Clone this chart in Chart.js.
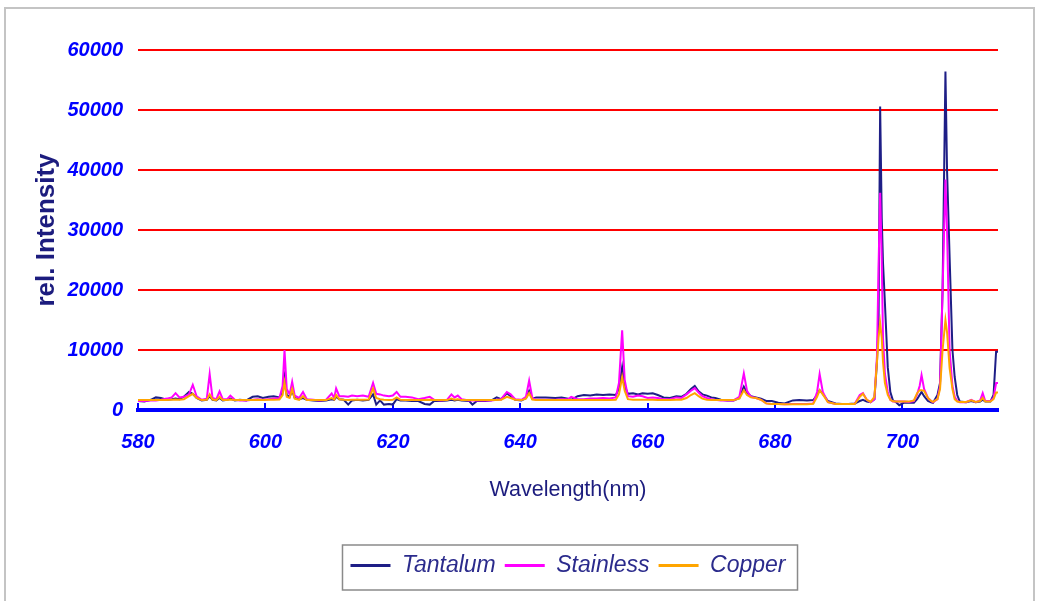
<!DOCTYPE html>
<html><head><meta charset="utf-8">
<script src="https://cdn.jsdelivr.net/npm/chart.js@4.4.1/dist/chart.umd.min.js"></script>
<style>html,body{margin:0;padding:0;background:#fff;}canvas{display:block;}</style>
</head><body>
<canvas id="c" width="1039" height="601"></canvas>
<script>
// ---------------- DATA ----------------
const seriesNames = ['Tantalum', 'Stainless', 'Copper'];
const xTitle = 'Wavelength(nm)';
const yTitle = 'rel. Intensity';
const xTicks = [580, 600, 620, 640, 660, 680, 700];
const xTickLabels = ['580', '600', '620', '640', '660', '680', '700'];
const yTicks = [0, 10000, 20000, 30000, 40000, 50000, 60000];
const yTickLabels = ['0', '10000', '20000', '30000', '40000', '50000', '60000'];

const wavelength = [
  580.0,581.0,582.0,582.8,583.6,584.5,585.3,585.9,586.5,587.2,
  588.0,588.6,589.2,590.0,590.8,591.25,591.7,592.3,592.8,593.3,
  594.0,594.5,595.2,596.0,597.0,598.0,598.8,599.6,600.5,601.3,
  602.2,602.7,603.0,603.35,603.8,604.2,604.6,605.3,605.9,606.5,
  607.5,608.5,609.5,610.4,610.8,611.1,611.6,612.3,613.0,613.6,
  614.4,615.3,616.2,616.9,617.4,618.0,618.6,619.4,620.0,620.6,
  621.2,622.0,623.0,624.0,625.0,625.8,626.5,627.5,628.5,629.2,
  629.7,630.2,630.8,632.0,632.5,633.2,634.5,635.5,636.3,637.0,
  637.9,638.5,639.2,640.2,640.9,641.4,641.9,642.5,644.0,645.5,
  646.5,647.5,648.0,649.0,650.0,651.0,652.0,653.0,654.0,655.0,
  655.5,656.0,656.4,656.9,657.7,658.5,659.2,660.0,660.8,661.6,
  662.5,663.5,664.5,665.3,666.1,666.8,667.4,668.0,668.6,669.3,
  670.0,670.6,671.5,672.5,673.5,674.4,675.1,675.6,676.2,677.0,
  677.8,678.6,679.5,680.5,681.5,682.8,683.8,685.0,686.0,686.6,
  687.0,687.5,688.3,689.5,690.5,691.5,692.5,693.3,693.8,694.4,
  695.0,695.6,696.0,696.25,696.5,696.75,696.95,697.25,697.7,698.1,
  698.5,699.0,699.5,700.2,701.0,701.8,702.3,702.7,703.0,703.4,
  704.0,704.5,704.8,705.5,705.9,706.3,706.75,707.0,707.4,707.85,
  708.2,708.6,709.0,710.0,710.8,711.5,712.2,712.6,713.0,713.8,
  714.3,714.7,715.0
];
const tantalum = [
  1500,1400,1700,2100,2000,1700,1800,1900,1800,2200,
  3000,2700,2000,1600,1700,2300,1700,1600,2000,1600,
  1700,1900,1600,1700,1600,2200,2300,2000,2200,2300,
  2100,3000,5500,2500,2200,3200,2000,1800,2000,1700,
  1600,1500,1600,1800,1700,2200,1800,1700,900,1600,
  1700,1600,1700,2600,900,1600,900,1000,900,1800,
  1600,1600,1500,1500,1000,900,1500,1500,1600,1700,
  1600,1700,1600,1500,900,1500,1500,1600,2100,1800,
  2800,2300,1700,1600,2000,3200,1900,2100,2100,2000,
  2100,1900,1700,2300,2500,2400,2600,2500,2600,2500,
  3500,7100,4000,2700,2800,2600,2800,2700,2800,2500,
  2100,2000,2300,2200,2700,3500,4000,3100,2600,2400,
  2100,2000,1700,1600,1600,2000,3900,2900,2300,2100,
  1900,1500,1500,1200,1100,1600,1650,1600,1650,2500,
  3300,2700,1500,1100,1000,1000,1100,1500,1700,1400,
  1300,1800,8000,15000,50600,32000,24500,17800,7100,3000,
  1600,1300,800,1200,1200,1200,1800,2500,3000,2300,
  1500,1300,1200,2500,4500,20000,56400,40000,25600,10000,
  5500,2500,1400,1300,1500,1300,1400,1700,1400,1400,
  2500,9700,9700
];
const stainless = [
  1500,1500,1600,1600,1700,1900,2100,2800,2100,2200,
  2600,4200,2300,1700,1900,6000,2000,1800,3100,1800,
  1800,2400,1700,1600,1600,1700,1800,1700,1800,1900,
  2000,4000,10000,3500,2600,4700,2400,2000,3000,1800,
  1700,1600,1700,2750,2000,3600,2300,2300,2200,2400,
  2300,2400,2200,4500,2700,2600,2400,2300,2400,3000,
  2200,2200,2100,1800,2000,2200,1700,1600,1700,2600,
  2100,2400,1800,1600,1600,1600,1600,1600,1700,1800,
  3000,2600,1800,1700,2200,4900,2000,1700,1700,1700,
  1800,1800,2200,1800,1800,1900,1900,2000,1900,2100,
  4500,13300,5000,2300,2200,2400,2300,2000,2100,2000,
  1800,1800,2100,2000,2600,3200,3650,2900,2300,2000,
  1800,1700,1600,1600,1600,2200,6100,3200,2200,2000,
  1700,1100,1000,1000,950,1000,1000,1000,1100,3000,
  6000,3000,1300,1000,1000,1000,1000,2500,2800,1700,
  1300,1800,9000,24000,36200,25000,12000,6000,3000,1700,
  1400,1400,1400,1400,1350,1500,2600,4000,5800,3500,
  2000,1500,1300,1800,4000,20000,38400,30000,10000,4000,
  2200,1500,1300,1300,1700,1300,1600,2800,1500,1500,
  2000,4500,4500
];
const copper = [
  1650,1650,1650,1650,1650,1650,1700,1750,1700,1800,
  2300,2700,2000,1650,1700,2600,1750,1650,2200,1650,
  1650,1750,1650,1650,1650,1650,1700,1650,1700,1700,
  1750,2500,4600,2200,2000,3500,1900,1700,2300,1650,
  1650,1650,1650,2000,1750,2500,1800,1700,1650,1700,
  1700,1700,1750,3600,2000,1800,1700,1650,1700,2100,
  1700,1650,1650,1650,1650,1700,1650,1650,1650,1900,
  1700,1800,1650,1650,1650,1650,1650,1650,1650,1700,
  2200,2000,1700,1650,1900,2800,1750,1650,1650,1650,
  1650,1650,1650,1650,1650,1650,1650,1650,1650,1700,
  2600,5500,3200,1800,1700,1700,1700,1700,1700,1650,
  1650,1650,1700,1700,2000,2500,2800,2300,1900,1700,
  1650,1650,1650,1650,1650,1900,3300,2500,2100,2000,
  1700,1100,1000,1000,970,970,970,970,1050,2200,
  3300,2600,1300,1000,1000,1000,1000,2200,2700,1700,
  1350,2200,8000,12000,14500,12000,8000,4500,2500,1700,
  1450,1400,1400,1400,1400,1600,2800,3300,3300,3200,
  2000,1500,1350,1800,3500,10000,15000,13000,7000,3500,
  1800,1400,1350,1350,1600,1350,1500,2000,1400,1400,
  1800,2900,2900
];

// ---------------- STYLE ----------------
const FAMILY = "'Liberation Sans', Arial, Helvetica, sans-serif";
const colors = ['#1e1e86', '#ff00ff', '#ffa500'];
const seriesValues = [tantalum, stainless, copper];
const orders = [3, 2, 1];

const tickFont = { family: FAMILY, size: 20, style: 'italic', weight: 'bold' };
const xTitleFont = { family: FAMILY, size: 21.5 };
const yTitleFont = { family: FAMILY, size: 26, weight: 'bold' };
const legendFont = { family: FAMILY, size: 23, style: 'italic' };

const framePlugin = {
  id: 'frame',
  beforeDraw(chart) {
    const c = chart.ctx;
    c.save();
    c.fillStyle = '#ffffff';
    c.fillRect(0, 0, chart.width, chart.height);
    c.strokeStyle = '#c4c4c4';
    c.lineWidth = 2;
    c.strokeRect(5, 8, chart.width - 10, chart.height + 10);
    c.restore();
  },
  afterDraw(chart) {
    const lg = chart.legend;
    if (!lg || !lg.legendHitBoxes || !lg.legendHitBoxes.length) return;
    const hb = lg.legendHitBoxes;
    const first = hb[0], last = hb[hb.length - 1];
    const c = chart.ctx;
    c.save();
    c.strokeStyle = '#8a8a8a';
    c.lineWidth = 1.5;
    const l = first.left - 8, r = last.left + last.width + 12;
    const t = first.top - 9, b = first.top + first.height + 13;
    c.strokeRect(l, t, r - l, b - t);
    c.restore();
  }
};

new Chart(document.getElementById('c'), {
  type: 'line',
  data: {
    datasets: seriesNames.map((name, i) => ({
      label: name,
      data: wavelength.map((x, j) => ({ x: x, y: seriesValues[i][j] })),
      borderColor: colors[i],
      backgroundColor: colors[i],
      borderWidth: 2,
      pointRadius: 0,
      tension: 0,
      fill: false,
      order: orders[i]
    }))
  },
  options: {
    responsive: false,
    animation: false,
    events: [],
    layout: { padding: { left: 0, right: 41, top: 50, bottom: 14 } },
    plugins: {
      tooltip: { enabled: false },
      legend: {
        position: 'bottom',
        fullSize: false,
        labels: {
          font: legendFont,
          color: '#2b2b8c',
          boxWidth: 40,
          boxHeight: 3,
          padding: 9,
          generateLabels: (chart) => chart.data.datasets.map((d, i) => ({
            text: d.label,
            fillStyle: d.borderColor,
            strokeStyle: d.borderColor,
            lineWidth: 0,
            hidden: false,
            datasetIndex: i,
            fontColor: '#2b2b8c'
          }))
        }
      }
    },
    scales: {
      x: {
        type: 'linear',
        min: 580,
        max: 715,
        afterBuildTicks: (s) => { s.ticks = xTicks.map(v => ({ value: v })); },
        afterFit: (s) => { s.height = 135; },
        grid: { display: true, drawOnChartArea: false, drawTicks: true, tickLength: -7, color: '#0000ff', lineWidth: 2 },
        border: { display: true, color: '#0000ff', width: 4 },
        ticks: {
          color: '#0000ff', font: tickFont, padding: 27, maxRotation: 0, autoSkip: false,
          callback: (v, i) => xTickLabels[i]
        },
        title: { display: true, text: xTitle, color: '#1c1c7e', font: xTitleFont, padding: { top: 0, bottom: 42 } }
      },
      y: {
        min: 0,
        max: 60000,
        afterBuildTicks: (s) => { s.ticks = yTicks.map(v => ({ value: v })); },
        afterFit: (s) => { s.width = 138; },
        grid: {
          color: (ctx) => (ctx.tick && ctx.tick.value === 0) ? 'rgba(0,0,0,0)' : '#ff0000',
          lineWidth: 2,
          drawTicks: false
        },
        border: { display: false },
        ticks: {
          color: '#0000ff', font: tickFont, padding: 15,
          callback: (v, i) => yTickLabels[i]
        },
        title: { display: true, text: yTitle, color: '#1c1c7e', font: yTitleFont, padding: { top: 31, bottom: 0 } }
      }
    }
  },
  plugins: [framePlugin]
});
</script>
</body></html>
